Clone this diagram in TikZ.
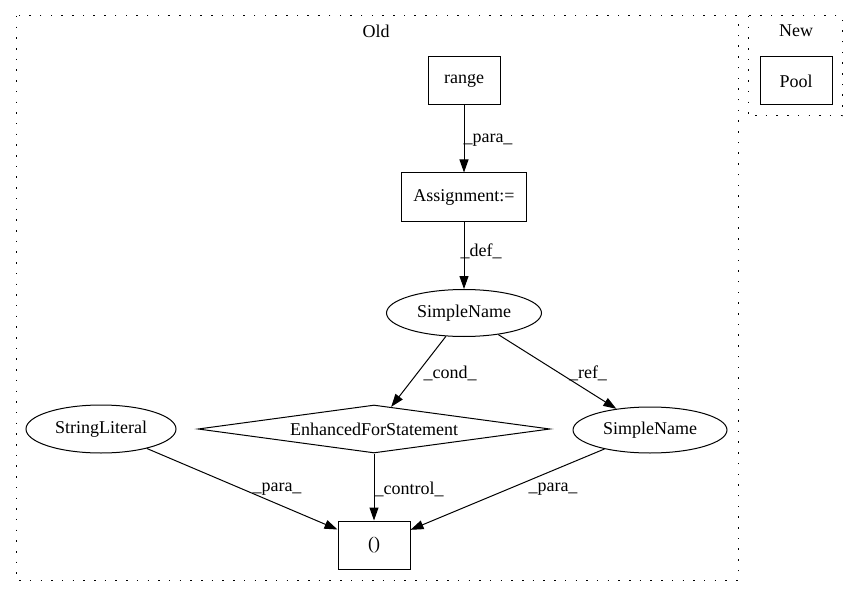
\documentclass[tikz,border=0pt]{standalone}
\usepackage{fontspec}
\setmainfont{Liberation Serif}
\usepackage{tikz}
\usetikzlibrary{arrows.meta,shapes.geometric}

\tikzset{
  gnode/.style={draw, line width=1pt, inner sep=0pt, font=\fontsize{18}{21}\selectfont},
  gbox/.style={gnode, rectangle, minimum width=72pt, minimum height=48pt},
  gell/.style={gnode, ellipse},
  gdia/.style={gnode, diamond, aspect=7.3, minimum width=352pt, minimum height=48pt},
  glabel/.style={inner sep=0pt, font=\fontsize{18}{21}\selectfont},
  gedge/.style={line width=1pt, -{Triangle[length=13pt,width=9pt]}},
  cluster/.style={line width=1pt, dash pattern=on 1.5pt off 9.2pt}
}

\begin{document}
\begin{tikzpicture}[x=1pt, y=-1pt]
 \useasboundingbox (0,0) rectangle (859,596);

 % clusters
 \draw [cluster] (16,16) rectangle (738,580);
 \node [glabel] (oldlbl) at (376,31) {Old};
 \draw [cluster] (748,16) rectangle (842,116);
 \node [glabel] (newlbl) at (796,31) {New};

 % nodes
 \node [gbox] (pool) at (796,81) {Pool};
 \node [gbox] (range) at (464,81) {range};
 \node [gbox, minimum width=125pt] (assign) at (464,197) {Assignment:=};
 \node [gell, minimum width=155pt, minimum height=47pt] (sname) at (464,313) {SimpleName};
 \node [gdia] (efor) at (374,429) {EnhancedForStatement};
 \node [gell, minimum width=154pt, minimum height=46pt] (snameref) at (650,430) {SimpleName};
 \node [gell, minimum width=150pt, minimum height=48pt] (strlit) at (101,429) {StringLiteral};
 \node [gbox] (call) at (374,545) {()};

 % edges
 \draw [gedge] (range) -- (assign);
 \draw [gedge] (assign) -- (sname);
 \draw [gedge] (sname) -- (efor);
 \draw [gedge] (sname) -- (snameref);
 \draw [gedge] (strlit) -- (call);
 \draw [gedge] (efor) -- (call);
 \draw [gedge] (snameref) -- (call);

 % edge labels
 \node [glabel] (l1) at (488,140) {\_para\_};
 \node [glabel] (l2) at (481,251) {\_def\_};
 \node [glabel] (l3) at (450,373) {\_cond\_};
 \node [glabel] (l4) at (588,373) {\_ref\_};
 \node [glabel] (l5) at (277,489) {\_para\_};
 \node [glabel] (l6) at (409,489) {\_control\_};
 \node [glabel] (l7) at (553,489) {\_para\_};
\end{tikzpicture}
\end{document}
